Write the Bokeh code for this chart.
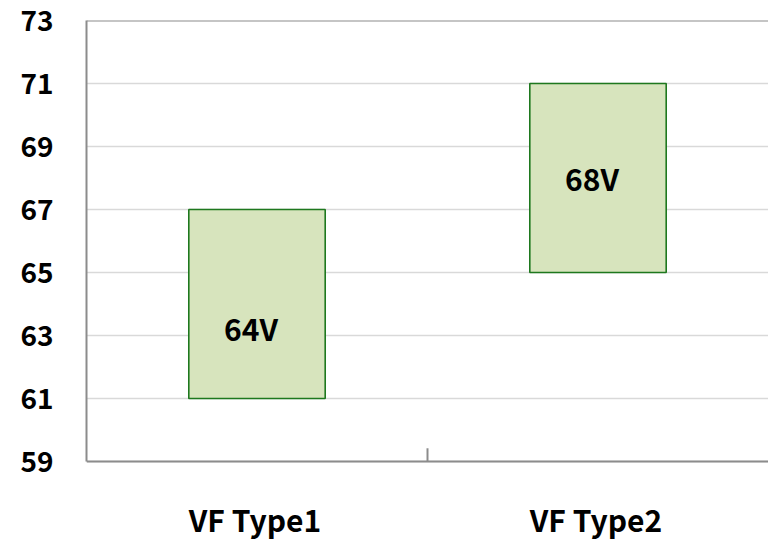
from bokeh.plotting import figure
from bokeh.models import FactorRange, Range1d, FixedTicker, Span, ColumnDataSource
from bokeh.core.properties import value
from bokeh.embed import file_html
from bokeh.resources import INLINE

categories = ["VF Type1", "VF Type2"]
low_values = [61, 65]
high_values = [67, 71]
bar_labels = ["64V", "68V"]
label_y = [63.25, 68.0]
y_ticks = [59, 61, 63, 65, 67, 69, 71, 73]
y_min, y_max = 59, 73

FONT = "Noto Sans CJK KR"
GRID = "#d9d9d9"
AXIS = "#8c8c8c"
FS = "30px"

W, H = 768, 541
TOP, LEFT = 20, 86
PX_PER_UNIT = 31.5
# frame extends below the axis so the category labels can be drawn inside it
y_start = y_max - (H - TOP) / PX_PER_UNIT

p = figure(width=W, height=H, output_backend="svg", toolbar_location=None,
           x_range=FactorRange(factors=categories, range_padding=0),
           y_range=Range1d(y_start, y_max), x_axis_location=None,
           min_border_left=LEFT, min_border_right=0, min_border_top=TOP, min_border_bottom=0)
p.outline_line_color = None
p.background_fill_color = "white"
p.border_fill_color = "white"

src = ColumnDataSource(dict(x=categories, bottom=low_values, top=high_values,
                            label=bar_labels, ly=label_y, base=[y_min] * len(categories)))
p.vbar(x="x", bottom="bottom", top="top", width=0.4, source=src,
       fill_color="#d7e4bd", line_color="#1e781e", line_width=1.6)
p.text(x="x", y="ly", text="label", source=src, text_align="center",
       text_baseline="middle", x_offset=-6, text_font=value(FONT),
       text_font_style="bold", text_font_size=FS, text_color="black")

# category labels under the axis line
p.text(x="x", y="base", text="x", source=src, text_align="center",
       text_baseline="middle", x_offset=-2, y_offset=57, text_font=value(FONT),
       text_font_style="bold", text_font_size=FS, text_color="black")

# divider tick between categories
p.segment(x0=[1], y0=[y_min], x1=[1], y1=[y_min + 0.42], line_color=AXIS, line_width=2)

p.add_layout(Span(location=y_max, dimension="width", line_color=AXIS, line_width=2))
p.add_layout(Span(location=y_min, dimension="width", line_color=AXIS, line_width=2))

p.yaxis.ticker = FixedTicker(ticks=y_ticks)
p.yaxis.bounds = (y_min, y_max)
p.yaxis.major_tick_out = 0
p.yaxis.major_tick_in = 0
p.yaxis.minor_tick_out = 0
p.yaxis.minor_tick_in = 0
p.yaxis.major_tick_line_color = None
p.yaxis.minor_tick_line_color = None
p.yaxis.axis_line_color = AXIS
p.yaxis.axis_line_width = 2
p.yaxis.major_label_standoff = 33
p.yaxis.major_label_text_font = FONT
p.yaxis.major_label_text_font_style = "bold"
p.yaxis.major_label_text_font_size = "28px"
p.yaxis.major_label_text_color = "black"

p.xgrid.grid_line_color = None
p.ygrid.grid_line_color = GRID
p.ygrid.grid_line_width = 1.5

open("out.html", "w").write(file_html(p, INLINE))
